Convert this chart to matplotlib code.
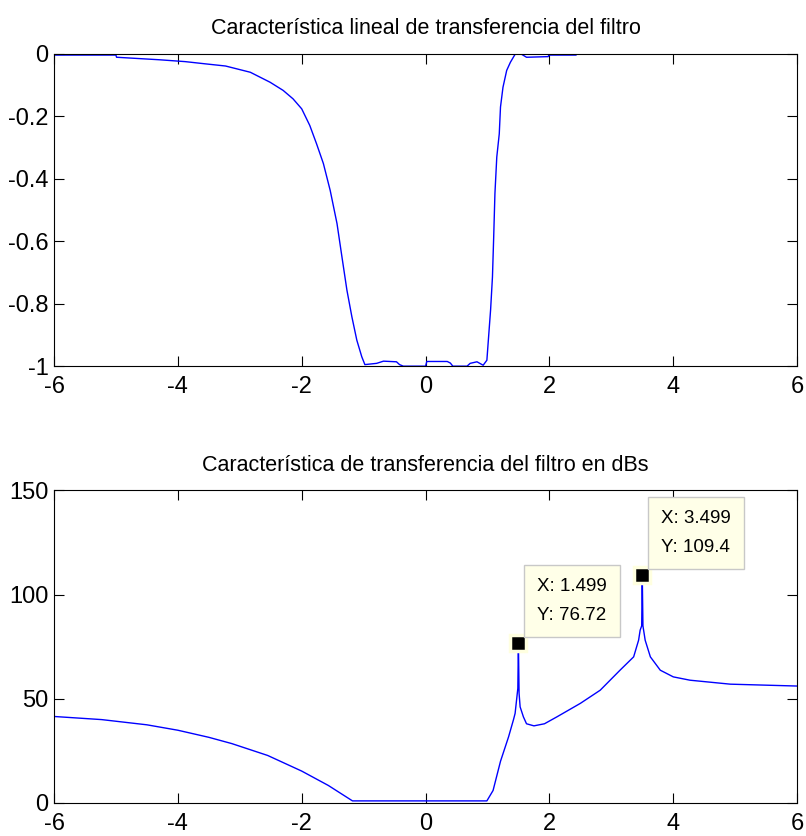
import matplotlib
matplotlib.use("Agg")
import matplotlib.pyplot as plt

plt.rcParams['font.family'] = ['Liberation Sans', 'DejaVu Sans']
plt.rcParams['axes.unicode_minus'] = False

# linear transfer characteristic
top_x = [-6, -5.0, -4.99, -4.3, -3.88, -3.56, -3.23, -2.83, -2.51, -2.30, -2.14, -2.00,
         -1.87, -1.76, -1.65, -1.54, -1.43, -1.35, -1.27, -1.19, -1.11, -1.03, -0.98,
         -0.79, -0.68, -0.47, -0.42, -0.36, 0.0, 0.02, 0.35, 0.40, 0.44, 0.67, 0.72, 0.83, 0.93,
         0.99, 1.01, 1.05, 1.08, 1.10, 1.12, 1.15, 1.19, 1.21, 1.25, 1.31, 1.37, 1.45, 1.53,
         1.63, 1.98, 1.99, 2.43, 2.45, 6]
top_y = [-0.005, -0.005, -0.012, -0.02, -0.026, -0.033, -0.040, -0.060, -0.092, -0.118, -0.145, -0.177,
         -0.23, -0.289, -0.352, -0.438, -0.544, -0.651, -0.757, -0.842, -0.917, -0.970, -0.995,
         -0.991, -0.984, -0.986, -0.995, -1.0, -1.0, -0.985, -0.985, -0.99, -1.0, -1.0, -0.991, -0.986, -0.997,
         -0.981, -0.927, -0.82, -0.715, -0.587, -0.448, -0.331, -0.257, -0.171, -0.108, -0.054, -0.028, -0.001, 0.0,
         -0.012, -0.01, -0.005, -0.005, 0.0, 0.0]

# transfer characteristic in dB
db_x = [-6, -5.23, -4.5, -4, -3.5, -3.13, -2.55, -2.0, -1.57, -1.18, 0.99, 1.09, 1.21, 1.34, 1.42,
        1.446, 1.49, 1.499, 1.51, 1.527, 1.58, 1.63, 1.75, 1.92, 2.12, 2.5, 2.82, 3.14, 3.36, 3.44,
        3.465, 3.49, 3.499, 3.51, 3.546, 3.63, 3.79, 4.0, 4.27, 4.92, 6]
db_y = [41.5, 40.0, 37.5, 34.9, 31.5, 28.5, 22.8, 15.3, 8.4, 1.0, 1.0, 6, 20, 31.7, 40,
        43, 55, 76.72, 52.6, 46.1, 41.3, 38, 37, 38, 41.3, 47.8, 54.1, 63.7, 70.1, 78.1,
        82.9, 85, 109.4, 85, 78.1, 70.1, 63.7, 60.5, 58.9, 57, 56.1]

tips_x = [1.499, 3.499]
tips_y = [76.72, 109.4]

fig = plt.figure(figsize=(8.06, 8.36), dpi=100)
ax1 = fig.add_axes([0.067, 0.562, 0.922, 0.374])
ax2 = fig.add_axes([0.067, 0.0395, 0.922, 0.374])

ax1.plot(top_x, top_y, color='#0000ff', lw=1)
ax1.set_xlim(-6, 6)
ax1.set_ylim(-1, 0)
ax1.set_yticks([-1, -0.8, -0.6, -0.4, -0.2, 0])
ax1.set_yticklabels(['-1', '-0.8', '-0.6', '-0.4', '-0.2', '0'])
ax1.set_title('Característica lineal de transferencia del filtro', fontsize=15.5, pad=14)

ax2.plot(db_x, db_y, color='#0000ff', lw=1)
ax2.set_xlim(-6, 6)
ax2.set_ylim(0, 150)
ax2.set_yticks([0, 50, 100, 150])
ax2.set_title('Característica de transferencia del filtro en dBs', fontsize=15.5, pad=14)

for ax in (ax1, ax2):
    ax.set_xticks([-6, -4, -2, 0, 2, 4, 6])
    ax.tick_params(direction='in', length=7, width=0.8, top=True, right=True,
                   labelsize=17)
    ax.tick_params(axis='x', pad=7)
    ax.tick_params(axis='y', pad=4)
    for s in ax.spines.values():
        s.set_linewidth(0.8)

# data tips
for tx, ty in zip(tips_x, tips_y):
    ax2.plot(tx, ty, 's', ms=11, mfc='black', mec='#ffffe0', mew=2.5, zorder=5)
    ax2.annotate('X: %.4g\nY: %.4g' % (tx, ty), (tx, ty), xytext=(19, 19),
                 textcoords='offset pixels', ha='left', va='bottom', fontsize=13.5,
                 linespacing=1.9,
                 bbox=dict(boxstyle='square,pad=0.7', fc='#ffffe8', ec='#c8c8c8', lw=1),
                 zorder=6, annotation_clip=False)

fig.savefig('out.png', dpi=100)
